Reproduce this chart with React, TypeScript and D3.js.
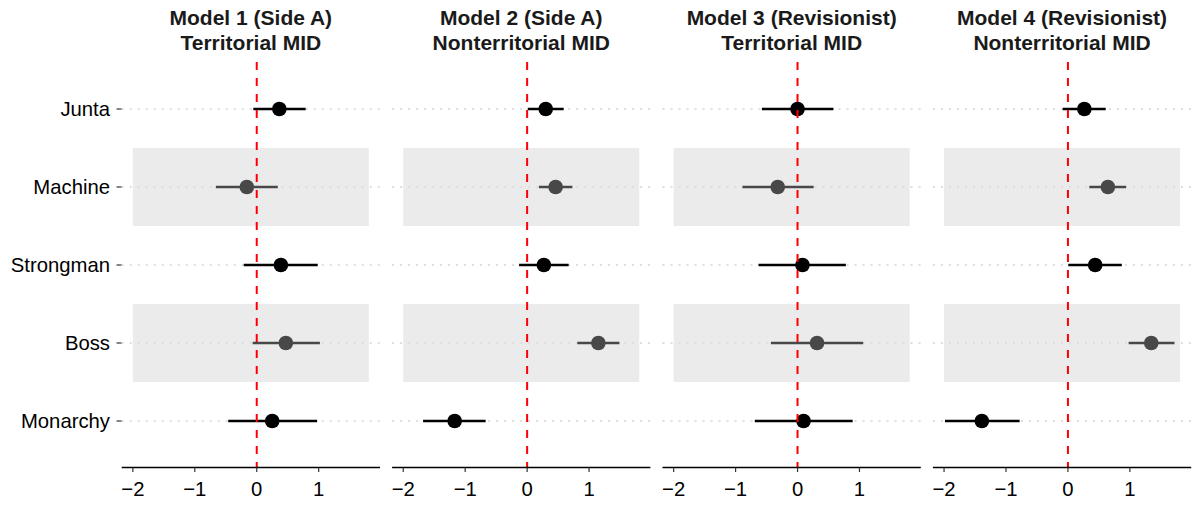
import React from 'react';
import * as d3 from 'd3';

// regime types, top to bottom
const categories = ['Junta', 'Machine', 'Strongman', 'Boss', 'Monarchy'];
const panelTitles = [
  ['Model 1 (Side A)', 'Territorial MID'],
  ['Model 2 (Side A)', 'Nonterritorial MID'],
  ['Model 3 (Revisionist)', 'Territorial MID'],
  ['Model 4 (Revisionist)', 'Nonterritorial MID'],
];
// estimates per panel, in category order
const estimates = [
  [0.365, -0.16, 0.39, 0.47, 0.25],
  [0.3, 0.46, 0.27, 1.15, -1.17],
  [0.0, -0.32, 0.08, 0.315, 0.097],
  [0.265, 0.645, 0.44, 1.345, -1.39],
];
const lowers = [
  [-0.055, -0.66, -0.21, -0.065, -0.46],
  [0.01, 0.19, -0.13, 0.81, -1.68],
  [-0.575, -0.89, -0.63, -0.43, -0.69],
  [-0.085, 0.345, 0.005, 0.98, -1.985],
];
const uppers = [
  [0.79, 0.34, 0.985, 1.02, 0.975],
  [0.59, 0.73, 0.67, 1.49, -0.67],
  [0.58, 0.26, 0.78, 1.06, 0.89],
  [0.61, 0.94, 0.87, 1.72, -0.78],
];
const xTicks = [-2, -1, 0, 1];
const xDomain = [-2.18, 1.99];
const shadeExtent = [-2, 1.81];
const shadedRows = ['Machine', 'Boss'];

const W = 1198;
const H = 508;
const panelLeft = 121.7;
const panelWidth = 258.3;
const panelStep = 270.4;
const plotTop = 62;
const plotBottom = 467.5;
const font = '"Liberation Sans", Arial, Helvetica, sans-serif';

export default function App() {
  const y = d3.scalePoint<string>().domain(categories).range([109, 421]);
  const rowH = y.step();

  return (
    <svg width={W} height={H} style={{ position: 'absolute', left: 0, top: 0 }} fontFamily={font}>
      <rect width={W} height={H} fill="#fff" />
      {/* y axis labels */}
      {categories.map(c => (
        <g key={c}>
          <text x={110} y={y(c)!} dy="0.36em" textAnchor="end" fontSize={20.3} fill="#000">{c}</text>
          <line x1={116.5} x2={panelLeft} y1={y(c)!} y2={y(c)!} stroke="#333" strokeWidth={1.2} />
        </g>
      ))}
      {panelTitles.map((title, p) => {
        const left = panelLeft + p * panelStep;
        const x = d3.scaleLinear().domain(xDomain).range([left, left + panelWidth]);
        const cx = left + panelWidth / 2;
        return (
          <g key={p}>
            <text x={cx} y={25} textAnchor="middle" fontSize={21} fontWeight="bold" fill="#1a1a1a">{title[0]}</text>
            <text x={cx} y={49.5} textAnchor="middle" fontSize={21} fontWeight="bold" fill="#1a1a1a">{title[1]}</text>
            {shadedRows.map(r => (
              <rect key={r} x={x(shadeExtent[0])} width={x(shadeExtent[1]) - x(shadeExtent[0])}
                y={y(r)! - rowH / 2} height={rowH} fill="#ebebeb" />
            ))}
            {categories.map(c => (
              <line key={c} x1={left} x2={left + panelWidth} y1={y(c)!} y2={y(c)!}
                stroke="#dedede" strokeWidth={2} strokeDasharray="2,6" />
            ))}
            {categories.map((c, i) => {
              const col = shadedRows.includes(c) ? '#484848' : '#000';
              return (
                <g key={c}>
                  <line x1={x(lowers[p][i])} x2={x(uppers[p][i])} y1={y(c)!} y2={y(c)!} stroke={col} strokeWidth={2.7} />
                  <circle cx={x(estimates[p][i])} cy={y(c)!} r={7.3} fill={col} />
                </g>
              );
            })}
            <line x1={x(0)} x2={x(0)} y1={plotTop} y2={plotBottom} stroke="#ff0000" strokeWidth={2} strokeDasharray="8,8" />
            {/* x axis */}
            <line x1={left} x2={left + panelWidth} y1={plotBottom} y2={plotBottom} stroke="#000" strokeWidth={1.5} />
            {xTicks.map(t => (
              <g key={t}>
                <line x1={x(t)} x2={x(t)} y1={plotBottom} y2={plotBottom + 4.5} stroke="#333" strokeWidth={1.2} />
                <text x={x(t)} y={495.5} textAnchor="middle" fontSize={20.3} fill="#000">{t < 0 ? `\u2212${-t}` : t}</text>
              </g>
            ))}
          </g>
        );
      })}
    </svg>
  );
}
